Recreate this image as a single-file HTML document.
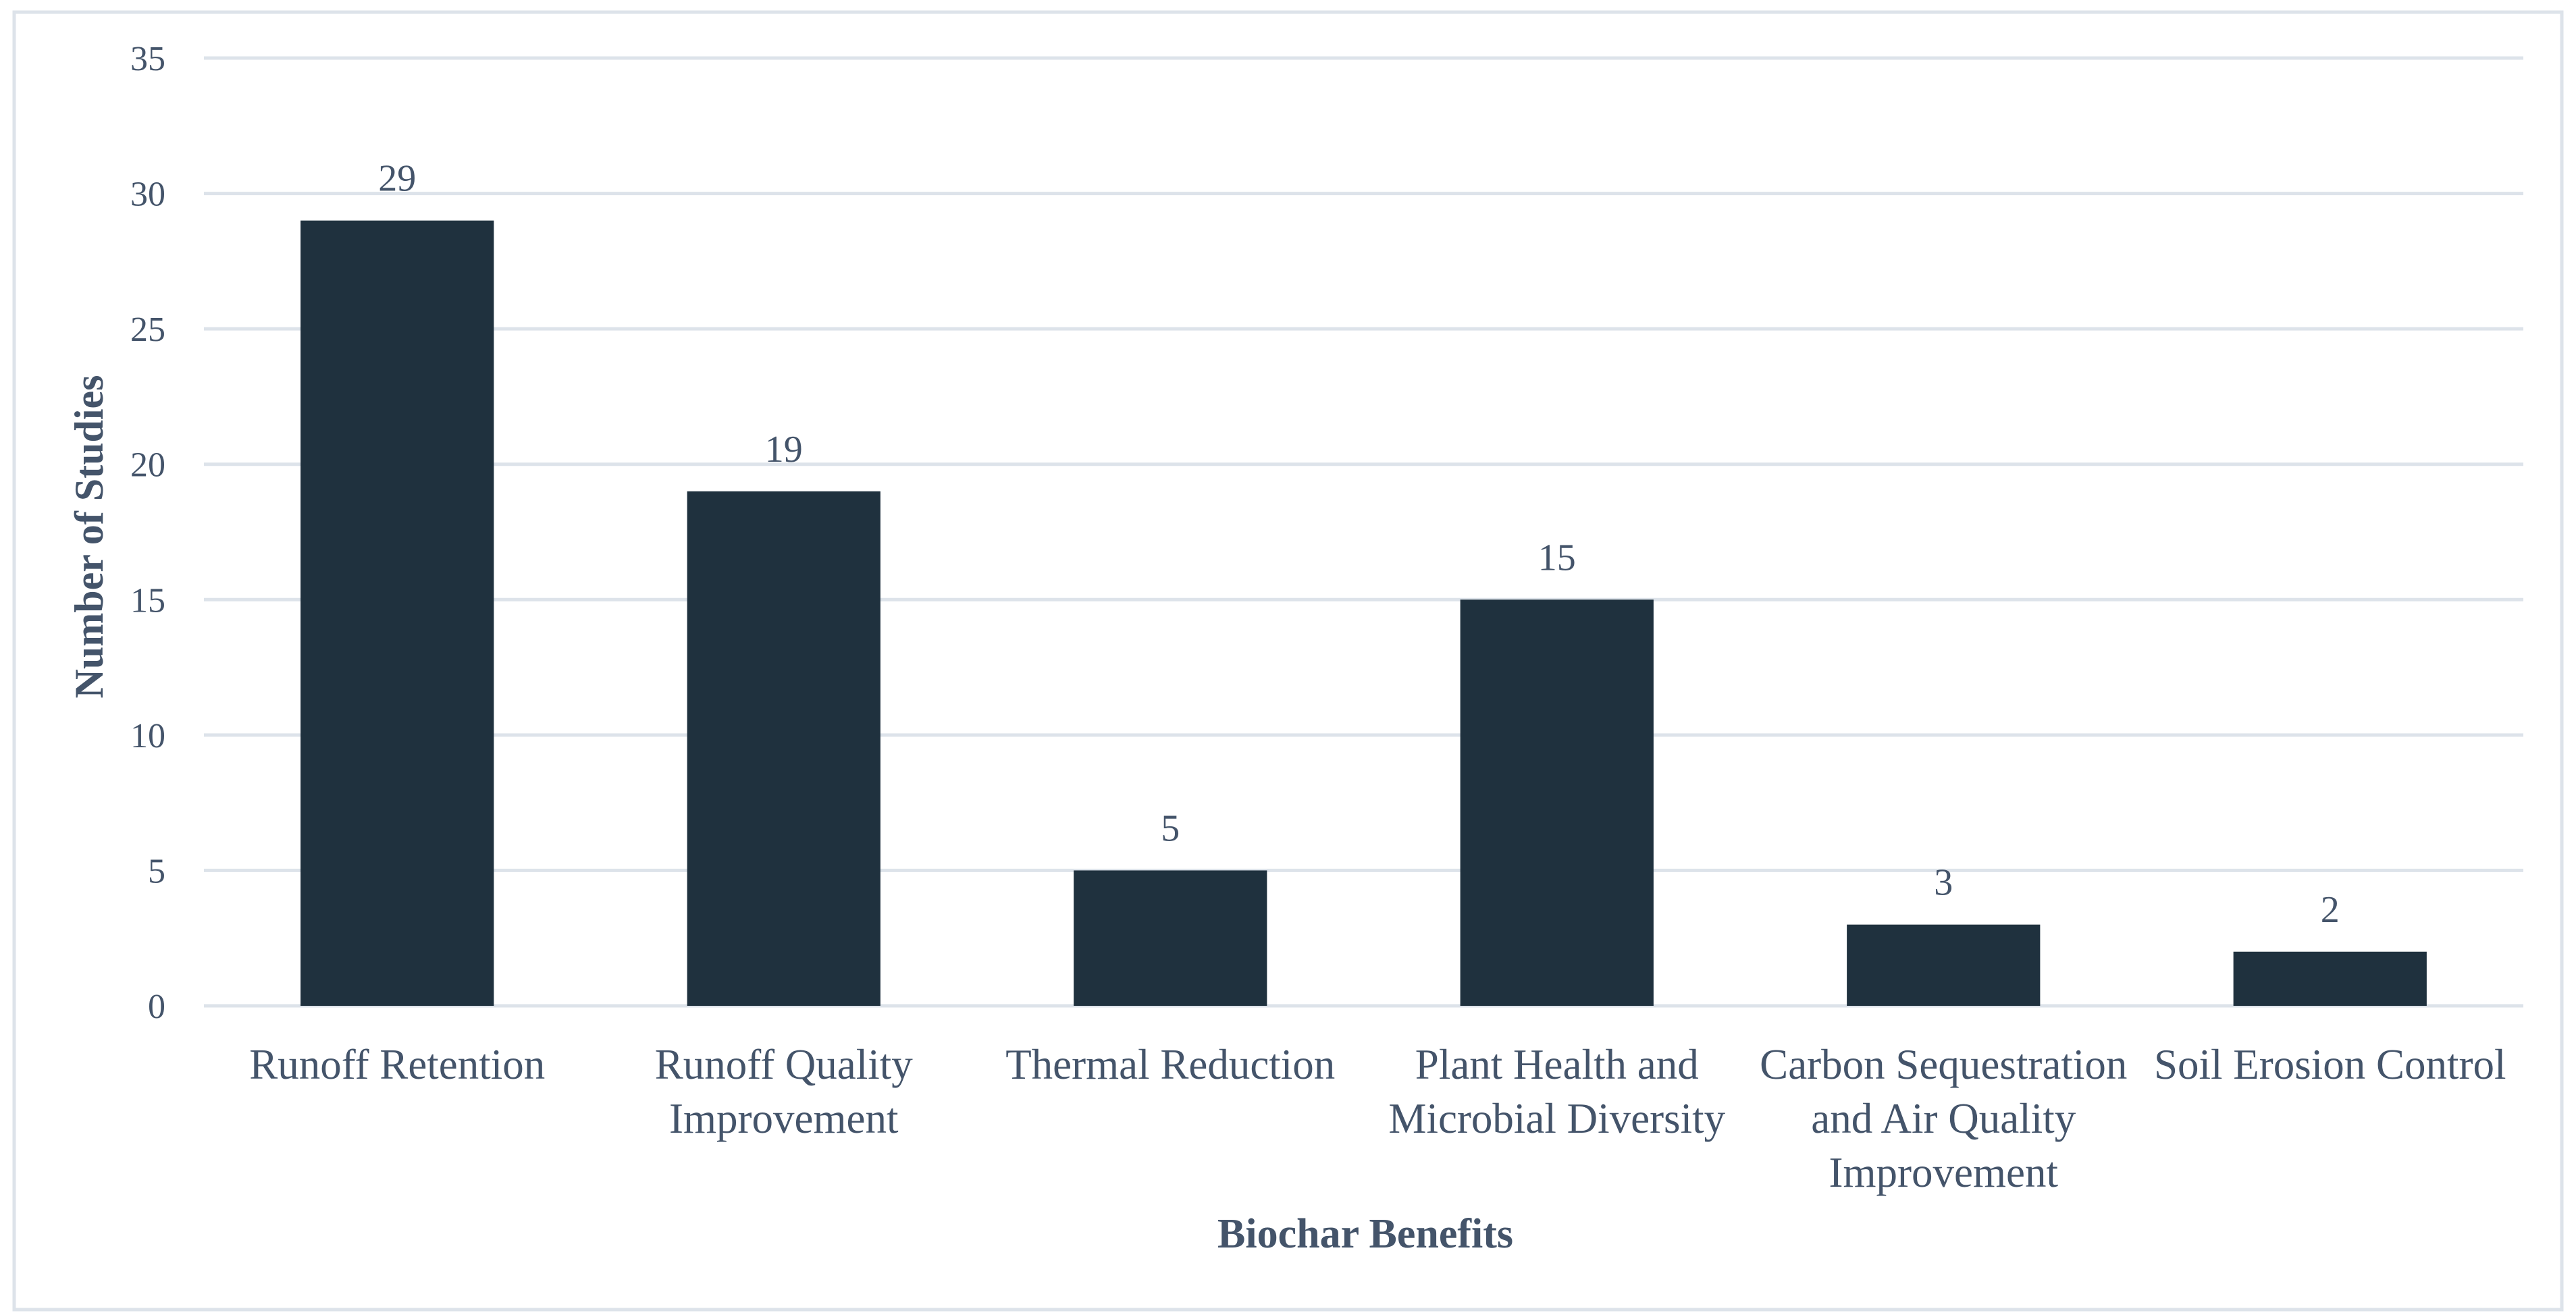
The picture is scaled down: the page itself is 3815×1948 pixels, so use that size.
<!DOCTYPE html>
<html><head><meta charset="utf-8"><style>
html,body{margin:0;padding:0;background:#fff}
svg{display:block}
text{font-family:"Liberation Serif",serif;fill:#44546a}
</style></head><body>
<svg id="chart" width="3815" height="1948" viewBox="0 0 3815 1948" xmlns="http://www.w3.org/2000/svg">
<rect x="21" y="18" width="3773" height="1922" fill="#fff" stroke="#dde3ea" stroke-width="5"/>
<g id="grid"></g><g id="bars"></g><g id="labels"></g>
<text transform="translate(152,795) rotate(-90)" text-anchor="middle" font-size="60" font-weight="bold">Number of Studies</text>
<text x="2022" y="1848" text-anchor="middle" font-size="62" font-weight="bold">Biochar Benefits</text>
</svg>
<script>
const categories = [["Runoff Retention"],["Runoff Quality","Improvement"],["Thermal Reduction"],["Plant Health and","Microbial Diversity"],["Carbon Sequestration","and Air Quality","Improvement"],["Soil Erosion Control"]];
const values = [29,19,5,15,3,2];
const yTicks = [0,5,10,15,20,25,30,35];

const NS="http://www.w3.org/2000/svg";
const x0=302,x1=3737,y0=1490,yTop=86,yMax=35;
const band=(x1-x0)/categories.length;
function xC(i){return x0+band*(i+0.5);}
function yS(v){return y0-(v/yMax)*(y0-yTop);}
function mk(tag,attrs,parent){const e=document.createElementNS(NS,tag);for(const k in attrs)e.setAttribute(k,attrs[k]);parent.appendChild(e);return e;}
const grid=document.getElementById('grid'),bars=document.getElementById('bars'),labels=document.getElementById('labels');
yTicks.forEach(t=>{
  const l=mk('line',{x1:x0,x2:x1,y1:yS(t),y2:yS(t),stroke:'#dde3ea','stroke-width':5},grid);
  
  
  const tx=mk('text',{x:245,y:yS(t)+18,'text-anchor':'end','font-size':52},grid);
  tx.textContent=t;
  
  
});
const bw=band*0.5;
values.forEach((v,i)=>{
  const r=mk('rect',{x:xC(i)-bw/2,y:yS(v),width:bw,height:y0-yS(v),fill:'#1f313e'},bars);
  
  
  const vl=mk('text',{x:xC(i),y:yS(v)-44,'text-anchor':'middle','font-size':56},labels);
  vl.textContent=v;
  
  
  categories[i].forEach((line,j)=>{
    const cl=mk('text',{x:xC(i),y:1598+j*80,'text-anchor':'middle','font-size':63},labels);
    cl.textContent=line;
    
    
  });
});
</script>
</body></html>
